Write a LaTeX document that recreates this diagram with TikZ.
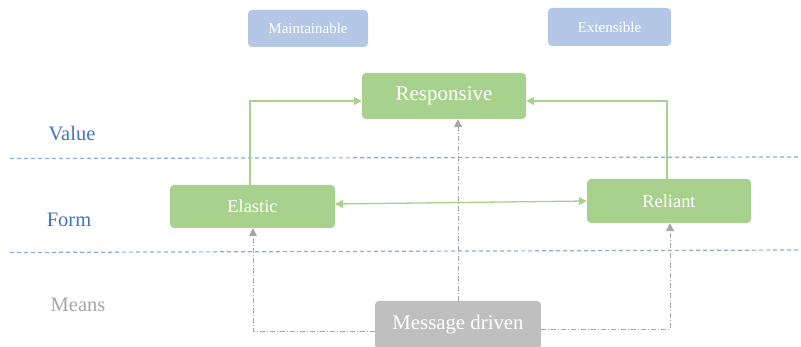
\documentclass[tikz,border=0pt]{standalone}
\usepackage{fontspec}
\setmainfont{Liberation Serif}
\usetikzlibrary{arrows.meta}
\definecolor{layerblue}{RGB}{68,114,196}
\definecolor{sepblue}{RGB}{143,170,220}
\definecolor{boxgreen}{RGB}{169,209,142}
\definecolor{boxblue}{RGB}{180,199,231}
\definecolor{boxgray}{RGB}{191,191,191}
\definecolor{msggray}{RGB}{166,166,166}

\begin{document}
\begin{tikzpicture}[
    x=1pt, y=-1pt, % 像素坐标, y 向下
    font=\rmfamily,
    box/.style={rounded corners=4pt, text=white, inner sep=0pt, anchor=center},
    greenbox/.style={box, fill=boxgreen},
    bluebox/.style={box, fill=boxblue, font=\rmfamily\fontsize{15}{17}\selectfont},
    graybox/.style={box, fill=boxgray},
    link/.style={draw=boxgreen, line width=1.3pt,
        -{Triangle[length=8pt,width=8pt]}},
    msg link/.style={draw=msggray, line width=0.8pt,
        dash pattern=on 5pt off 2pt on 1pt off 2pt,
        -{Triangle[length=8pt,width=8pt,fill=msggray]}},
    layer/.style={font=\rmfamily\fontsize{20.5}{23}\selectfont, anchor=center}
    ]
    % --- 画布 ---
    \useasboundingbox (0,0) rectangle (801,347);
    \clip (0,0) rectangle (801,347);

    % 1. 分隔虚线
    \draw[sepblue, line width=1.2pt, dash pattern=on 4pt off 3pt] (10,158.5) -- (801,157);
    \draw[sepblue, line width=1.2pt, dash pattern=on 4pt off 3pt] (10,252.5) -- (801,250);

    % 2. 层次标签
    \node[layer, layerblue] (value) at (72,134) {Value};
    \node[layer, layerblue] (form) at (69,220) {Form};
    \node[layer, msggray] (means) at (78,305) {Means};

    % 3. 节点
    \node[bluebox, minimum width=120, minimum height=37] (maint) at (308,28.5) {Maintainable};
    \node[bluebox, minimum width=123, minimum height=38] (ext) at (609.5,27) {Extensible};
    \node[greenbox, minimum width=164, minimum height=46, font=\rmfamily\fontsize{21}{24}\selectfont]
        (resp) at (444,96) {Responsive};
    \node[greenbox, minimum width=165, minimum height=43, font=\rmfamily\fontsize{18.4}{21}\selectfont]
        (elastic) at (252.5,206.5) {Elastic};
    \node[greenbox, minimum width=164, minimum height=44, font=\rmfamily\fontsize{18.4}{21}\selectfont]
        (reliant) at (669,201) {Reliant};
    \node[graybox, minimum width=166, minimum height=48, font=\rmfamily\fontsize{20.8}{24}\selectfont]
        (msg) at (458,325) {Message driven};

    % 4. 绿色连线
    \draw[link] (elastic.north -| 250,0) |- (resp.west |- 0,101);
    \draw[link] (reliant.north -| 667,0) |- (resp.east |- 0,101);
    \draw[link, {Triangle[length=8pt,width=8pt]}-{Triangle[length=8pt,width=8pt]}]
        (elastic.east |- 0,204) -- (reliant.west |- 0,201);

    % 5. 消息驱动虚线
    \draw[msg link] (msg.north) -- (msg.north |- resp.south);
    \draw[msg link] (msg.west |- 0,331) -| (elastic.south -| 253,0);
    \draw[msg link] (msg.east |- 0,329) -| (reliant.south -| 670,0);

\end{tikzpicture}
\end{document}
